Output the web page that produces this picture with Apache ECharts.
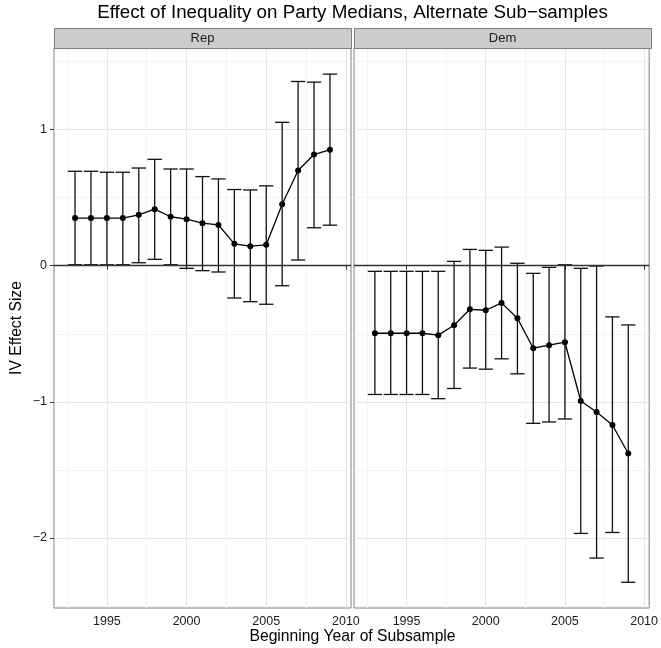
<!DOCTYPE html>
<html>
<head>
<meta charset="utf-8">
<script src="https://cdn.jsdelivr.net/npm/echarts@6/dist/echarts.min.js"></script>
<style>
  html, body { margin: 0; padding: 0; background: #fff; }
  #chart { width: 661px; height: 648px; }
</style>
</head>
<body>
<div id="chart"></div>
<script>
"use strict";

// subsample start years
var years = [1993, 1994, 1995, 1996, 1997, 1998, 1999, 2000, 2001, 2002, 2003, 2004, 2005, 2006, 2007, 2008, 2009];

// Rep panel: estimate and interval
var repEst = [0.35, 0.35, 0.35, 0.35, 0.374, 0.416, 0.36, 0.342, 0.313, 0.30, 0.161, 0.144, 0.154, 0.452, 0.70, 0.817, 0.853];
var repLo  = [0.007, 0.007, 0.007, 0.007, 0.022, 0.047, 0.007, -0.019, -0.036, -0.046, -0.237, -0.264, -0.283, -0.147, 0.042, 0.279, 0.298];
var repHi  = [0.694, 0.694, 0.687, 0.687, 0.718, 0.782, 0.711, 0.711, 0.655, 0.638, 0.56, 0.557, 0.587, 1.054, 1.354, 1.349, 1.408];

// Dem panel
var demEst = [-0.496, -0.496, -0.496, -0.496, -0.51, -0.437, -0.32, -0.327, -0.273, -0.386, -0.606, -0.584, -0.562, -0.994, -1.075, -1.17, -1.38];
var demLo  = [-0.946, -0.946, -0.946, -0.946, -0.977, -0.902, -0.752, -0.76, -0.684, -0.794, -1.158, -1.148, -1.126, -1.967, -2.148, -1.96, -2.326];
var demHi  = [-0.041, -0.041, -0.041, -0.041, -0.041, 0.032, 0.12, 0.113, 0.137, 0.018, -0.056, -0.012, 0.007, -0.019, -0.002, -0.376, -0.435];

var panels = ['Rep', 'Dem'];
var xTicks = [1995, 2000, 2005, 2010];
var xGrid = [1992.5, 1995, 1997.5, 2000, 2002.5, 2005, 2007.5, 2010];
var yTicks = [-2, -1, 0, 1];
var yGrid = [-2.5, -2, -1.5, -1, -0.5, 0, 0.5, 1, 1.5];

var FONT = 'Liberation Sans';
var X_MIN = 1991.68, X_MAX = 2010.32;
var Y_MIN = -2.515, Y_MAX = 1.60;
var CAP = 0.45;

var chart = echarts.init(document.getElementById('chart'));

var grids = [
  { left: 54, top: 48, width: 297, height: 560 },
  { left: 354, top: 48, width: 297, height: 560 }
];
grids.forEach(function (g) {
  g.show = true;
  g.backgroundColor = '#fff';
  g.borderColor = '#7f7f7f';
  g.borderWidth = 1;
  g.containLabel = false;
});

function gridColors(vals, major) {
  return vals.map(function (v) { return major.indexOf(v) >= 0 ? '#e6e6e6' : '#f4f4f4'; });
}

var xAxis = [], yAxis = [];
[0, 1].forEach(function (p) {
  // visible axis
  xAxis.push({
    type: 'value', gridIndex: p, min: X_MIN, max: X_MAX,
    axisLine: { show: false },
    axisTick: { show: true, customValues: xTicks, length: 4, lineStyle: { color: '#333', width: 1 } },
    axisLabel: {
      show: true, customValues: xTicks, color: '#1a1a1a', fontFamily: FONT, fontSize: 12.5, margin: 7,
      formatter: function (v) { return String(v); }
    },
    splitLine: { show: false }
  });
  // grid lines only
  xAxis.push({
    type: 'value', gridIndex: p, min: X_MIN, max: X_MAX,
    axisLine: { show: false },
    axisTick: { show: false, customValues: xGrid },
    axisLabel: { show: false, customValues: xGrid },
    splitLine: { show: true, lineStyle: { color: gridColors(xGrid, xTicks), width: 1 } }
  });
  yAxis.push({
    type: 'value', gridIndex: p, min: Y_MIN, max: Y_MAX,
    axisLine: { show: false },
    axisTick: { show: p === 0, customValues: yTicks, length: 4, lineStyle: { color: '#333', width: 1 } },
    axisLabel: {
      show: p === 0, customValues: yTicks, color: '#1a1a1a', fontFamily: FONT, fontSize: 12.5, margin: 7,
      formatter: function (v) { return String(v).replace('-', '\u2212'); }
    },
    splitLine: { show: false }
  });
  yAxis.push({
    type: 'value', gridIndex: p, min: Y_MIN, max: Y_MAX,
    axisLine: { show: false },
    axisTick: { show: false, customValues: yGrid },
    axisLabel: { show: false, customValues: yGrid },
    splitLine: { show: true, lineStyle: { color: gridColors(yGrid, yTicks), width: 1 } }
  });
});

function renderBars(params, api) {
  var x = api.value(0), lo = api.value(1), hi = api.value(2);
  var top = api.coord([x, hi]);
  var bot = api.coord([x, lo]);
  var l = api.coord([x - CAP, hi])[0];
  var r = api.coord([x + CAP, hi])[0];
  var st = { stroke: '#111', lineWidth: 1.3 };
  return {
    type: 'group',
    children: [
      { type: 'line', shape: { x1: top[0], y1: top[1], x2: bot[0], y2: bot[1] }, style: st },
      { type: 'line', shape: { x1: l, y1: top[1], x2: r, y2: top[1] }, style: st },
      { type: 'line', shape: { x1: l, y1: bot[1], x2: r, y2: bot[1] }, style: st }
    ]
  };
}

var sets = [
  { est: repEst, lo: repLo, hi: repHi },
  { est: demEst, lo: demLo, hi: demHi }
];

var series = [];
sets.forEach(function (s, p) {
  series.push({
    type: 'custom',
    xAxisIndex: p * 2, yAxisIndex: p * 2,
    renderItem: renderBars,
    data: years.map(function (y, i) { return [y, s.lo[i], s.hi[i]]; }),
    silent: true,
    z: 3
  });
  series.push({
    type: 'line',
    xAxisIndex: p * 2, yAxisIndex: p * 2,
    data: years.map(function (y, i) { return [y, s.est[i]]; }),
    symbol: 'circle', symbolSize: 6,
    itemStyle: { color: '#000' },
    lineStyle: { color: '#000', width: 1.3 },
    silent: true,
    z: 4,
    markLine: {
      silent: true, symbol: 'none',
      label: { show: false },
      lineStyle: { color: '#333', width: 1.3, type: 'solid' },
      data: [{ yAxis: 0 }]
    }
  });
});

var graphics = [];
grids.forEach(function (g, p) {
  graphics.push({
    type: 'rect', left: g.left, top: 28,
    shape: { width: g.width, height: 20 },
    style: { fill: '#cccccc', stroke: '#7f7f7f', lineWidth: 1 },
    z: 10
  });
  graphics.push({
    type: 'text', x: g.left + g.width / 2, y: 38,
    style: { text: panels[p], font: '13px "' + FONT + '"', fill: '#1a1a1a', align: 'center', verticalAlign: 'middle' },
    z: 11
  });
});
graphics.push({
  type: 'text', x: 352.5, y: 13,
  style: { text: 'Effect of Inequality on Party Medians, Alternate Sub\u2212samples', font: '18.8px "' + FONT + '"', fill: '#000', align: 'center', verticalAlign: 'middle' }
});
graphics.push({
  type: 'text', x: 352.5, y: 637,
  style: { text: 'Beginning Year of Subsample', font: '15.7px "' + FONT + '"', fill: '#000', align: 'center', verticalAlign: 'middle' }
});
graphics.push({
  type: 'text', x: 17, y: 328, rotation: Math.PI / 2,
  style: { text: 'IV Effect Size', font: '15.7px "' + FONT + '"', fill: '#000', align: 'center', verticalAlign: 'middle' }
});

chart.setOption({
  animation: false,
  backgroundColor: '#fff',
  textStyle: { fontFamily: FONT },
  grid: grids,
  xAxis: xAxis,
  yAxis: yAxis,
  series: series,
  graphic: graphics
});
</script>
</body>
</html>
